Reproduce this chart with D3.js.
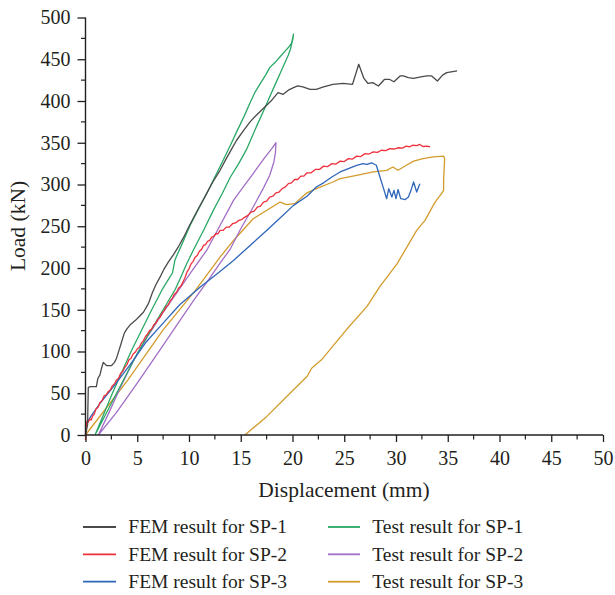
<!DOCTYPE html>
<html><head><meta charset="utf-8">
<script src="https://cdn.jsdelivr.net/npm/d3@7"></script>
<style>body{margin:0;background:#fff}svg{display:block}</style>
</head><body><div id="chart"></div>
<script>
const xTicks=[0,5,10,15,20,25,30,35,40,45,50];
const yTicks=[0,50,100,150,200,250,300,350,400,450,500];
const seriesNames=["FEM result for SP-1","FEM result for SP-2","FEM result for SP-3","Test result for SP-1","Test result for SP-2","Test result for SP-3"];
const seriesColors=["#4a4a4a","#ee2f3c","#2f66b9","#2aa866","#a36fc6","#d39b2c"];

const femSP1=[[0,0],[0.2,12],[0.27,57],[0.5,58],[1.05,58],[1.2,68],[1.4,72],[1.55,80],[1.72,87],[2.05,83],[2.5,83],[2.8,87],[3.0,92],[3.25,102],[3.5,112],[3.75,122],[4.0,127],[4.4,133],[4.8,137],[5.2,142],[5.6,147],[6.1,158],[6.45,170],[6.8,180],[7.2,189],[7.6,199],[8.0,207],[8.5,216],[9.0,226],[9.45,236],[10.1,252],[10.9,271],[11.7,289],[12.3,303],[13.0,317],[13.6,331],[14.1,342],[14.6,353],[15.3,365],[15.9,375],[16.5,383],[17.0,389],[17.5,395],[18.0,401],[18.6,410],[19.1,408],[19.6,413],[20.1,416],[20.5,418],[21.0,417],[21.7,414],[22.3,414],[23.0,417],[23.9,420],[24.9,421],[25.8,420],[26.4,444],[26.9,427],[27.3,421],[27.75,422],[28.3,418],[28.9,426],[29.35,426],[29.8,423],[30.4,430],[30.7,430],[31.2,428],[31.7,427],[32.4,429],[33.0,430],[33.45,430],[34.0,424],[34.5,431],[34.9,434],[35.9,436]];

const femSP2=[[0,-6],[0.05,8],[0.15,17],[0.25,15],[0.4,19],[0.55,18],[0.7,23],[0.85,25],[1.0,31],[1.2,33],[1.4,39],[1.6,41],[1.8,47],[2.0,48],[2.2,52],[2.4,54],[2.6,59],[2.8,61],[3.0,66],[3.2,68],[3.4,74],[3.6,76],[3.8,81],[4.0,84],[4.2,90],[4.4,92],[4.6,97],[4.8,99],[5.0,103],[5.2,105],[5.4,110],[5.6,113],[5.8,118],[6.0,121],[6.2,125],[6.4,127],[6.6,132],[6.8,134],[7.0,139],[7.2,141],[7.4,146],[7.6,149],[7.8,154],[8.0,156],[8.2,161],[8.4,164],[8.6,169],[8.8,171],[9.0,176],[9.2,178],[9.4,183],[9.6,188],[9.8,195],[10.0,199],[10.2,205],[10.4,208],[10.6,213],[10.8,215],[11.0,220],[11.2,222],[11.4,227],[11.6,228],[11.8,232],[12.0,233],[12.2,237],[12.4,238],[12.6,241],[12.8,241],[13.0,245],[13.3,245],[13.6,249],[13.9,249],[14.2,253],[14.5,254],[14.8,257],[15.1,258],[15.4,261],[15.7,263],[16.0,267],[16.3,268],[16.6,273],[16.9,274],[17.2,279],[17.5,280],[17.8,285],[18.1,286],[18.4,290],[18.7,291],[19.0,295],[19.3,297],[19.6,301],[19.9,302],[20.2,306],[20.5,306],[20.8,310],[21.1,310],[21.4,314],[21.8,314],[22.2,318],[22.6,318],[23.0,322],[23.4,321.5],[23.8,325],[24.2,324.5],[24.6,328],[25.0,327.5],[25.4,331],[25.8,330.5],[26.2,334],[26.6,333.5],[27.0,337],[27.4,336.5],[27.8,339],[28.2,338.5],[28.6,341],[29.0,340.5],[29.4,343],[29.8,342.5],[30.2,344],[30.6,343.5],[31.0,346],[31.3,345],[31.6,347],[32.0,346.5],[32.3,348],[32.6,345.5],[33.0,346],[33.3,345]];

const femSP3=[[0,0],[0.1,14],[0.5,22],[1.4,38],[2.7,58],[4.3,84],[5.9,112],[7.5,134],[9.1,156],[11.06,177],[12.6,192],[14.3,209],[15.9,227],[17.5,245],[18.8,260],[20.1,275],[21.4,286],[22.3,297],[23.0,302],[23.8,309],[24.6,315],[25.4,319],[26.2,323],[26.8,325],[27.2,324],[27.65,326],[28.1,323],[28.45,309],[28.8,295],[29.1,283],[29.3,295],[29.6,285],[29.8,293],[30.0,283],[30.2,294],[30.45,283],[30.9,282],[31.2,285],[31.5,295],[31.7,303],[32.0,291],[32.3,301]];

const testSP1=[[0.92,0],[2.6,50],[4.4,100],[6.4,150],[7.4,174],[8.0,186],[8.4,194],[8.65,210],[9.3,228],[10.1,251],[10.9,270],[11.7,289],[12.5,309],[13.3,329],[14.0,347],[14.6,363],[15.3,381],[15.9,398],[16.4,411],[16.9,421],[17.4,431],[17.8,440],[18.3,446],[18.8,453],[19.3,460],[19.6,464],[19.9,469],[20.1,480],[20.05,475],[19.8,462],[19.6,455],[19.2,444],[18.8,433],[18.3,419],[17.8,405],[17.2,388],[16.5,369],[15.6,343],[14.8,325],[14.0,309],[13.2,289],[12.35,269],[11.4,245],[10.4,221],[9.7,203],[9.1,186],[8.65,174],[7.5,150],[5.1,100],[3.0,50],[0.92,0]];

const testSP2=[[1.24,0],[2.2,25],[3.3,55],[4.6,88],[6.0,118],[7.4,145],[8.8,170],[10.2,195],[11.7,221],[12.7,244],[14.3,281],[15.3,298],[16.2,313],[17.3,332],[18.0,343],[18.4,350],[18.35,338],[18.2,327],[17.8,311],[17.2,296],[16.2,273],[15.0,247],[14.0,223],[12.9,204],[11.9,186],[10.5,162],[9.0,135],[7.2,102],[5.0,62],[3.0,27],[1.24,0]];

const testSP3=[[0,0],[4.1,66],[7.5,126],[10.6,173],[13.0,213],[14.3,233],[16.2,259],[18.8,279],[19.4,276],[20.2,277],[21.4,290],[22.3,295],[23.9,303],[24.6,307],[26.2,311],[27.8,315],[29.1,317],[29.7,321],[30.2,317],[31.0,323],[31.7,328],[32.6,331],[33.6,333],[34.6,334],[34.7,331],[34.6,305],[34.6,293],[34.4,289],[33.9,281],[33.6,275],[32.8,257],[32.0,245],[30.1,205],[28.45,178],[27.2,154],[25.2,126],[22.8,90],[21.85,80],[21.4,70],[19.76,50],[17.5,22],[15.4,0]];

const allSeries=[femSP1,femSP2,femSP3,testSP1,testSP2,testSP3];

const W=615,H=595;
const svg=d3.select("#chart").append("svg").attr("width",W).attr("height",H);
const x=d3.scaleLinear().domain([0,50]).range([85.5,603]);
const y=d3.scaleLinear().domain([0,500]).range([435,17.5]);
const font="'Liberation Serif', 'Times New Roman', serif";
const axisColor="#231f20";

// curves
const line=d3.line().x(d=>x(d[0])).y(d=>y(d[1]));
const order=[5,4,3,2,1,0];
order.forEach(i=>{
  svg.append("path").datum(allSeries[i]).attr("d",line)
    .attr("fill","none").attr("stroke",seriesColors[i])
    .attr("stroke-width",1.3).attr("stroke-linejoin","round");
});

// axes
const xAxis=d3.axisBottom(x).tickValues(xTicks).tickSize(7).tickPadding(9).tickFormat(d3.format("d"));
const gx=svg.append("g").attr("transform","translate(0,435)").call(xAxis);
const yAxis=d3.axisLeft(y).tickValues(yTicks).tickSize(8).tickPadding(7).tickFormat(d3.format("d"));
const gy=svg.append("g").attr("transform","translate(85.5,0)").call(yAxis);
[gx,gy].forEach(g=>{
  g.select(".domain").attr("stroke",axisColor).attr("stroke-width",1.4);
  g.selectAll(".tick line").attr("stroke",axisColor).attr("stroke-width",1.3);
  g.selectAll(".tick text").attr("font-family",font).attr("font-size",20).attr("fill",axisColor);
});
gx.select(".domain").attr("d","M85.5,0H603");
gy.select(".domain").attr("d","M0,435V17.5");
// minor ticks
const xMinor=xTicks.slice(0,-1).map(v=>v+2.5);
svg.append("g").selectAll("line").data(xMinor).join("line")
  .attr("x1",d=>x(d)).attr("x2",d=>x(d)).attr("y1",435).attr("y2",439.5)
  .attr("stroke",axisColor).attr("stroke-width",1.2);
const yMinor=yTicks.slice(0,-1).map(v=>v+25);
svg.append("g").selectAll("line").data(yMinor).join("line")
  .attr("y1",d=>y(d)).attr("y2",d=>y(d)).attr("x1",85.5).attr("x2",81)
  .attr("stroke",axisColor).attr("stroke-width",1.2);

// axis titles
svg.append("text").attr("x",344).attr("y",497).attr("text-anchor","middle")
  .attr("font-family",font).attr("font-size",21.5).attr("fill",axisColor).text("Displacement (mm)");
svg.append("text").attr("transform","translate(25,226) rotate(-90)").attr("text-anchor","middle")
  .attr("font-family",font).attr("font-size",21.5).attr("fill",axisColor).text("Load (kN)");

// legend
const legX=[[83,116,128.3],[328,360,372.3]];
const legY=[527,554.3,581.7];
seriesNames.forEach((name,i)=>{
  const col=Math.floor(i/3), row=i%3;
  const g=svg.append("g");
  g.append("line").attr("x1",legX[col][0]).attr("x2",legX[col][1])
    .attr("y1",legY[row]).attr("y2",legY[row])
    .attr("stroke",seriesColors[i]).attr("stroke-width",1.8);
  g.append("text").attr("x",legX[col][2]).attr("y",legY[row]).attr("dy","0.33em")
    .attr("font-family",font).attr("font-size",19.5).attr("fill",axisColor).text(name);
});
</script></body></html>
